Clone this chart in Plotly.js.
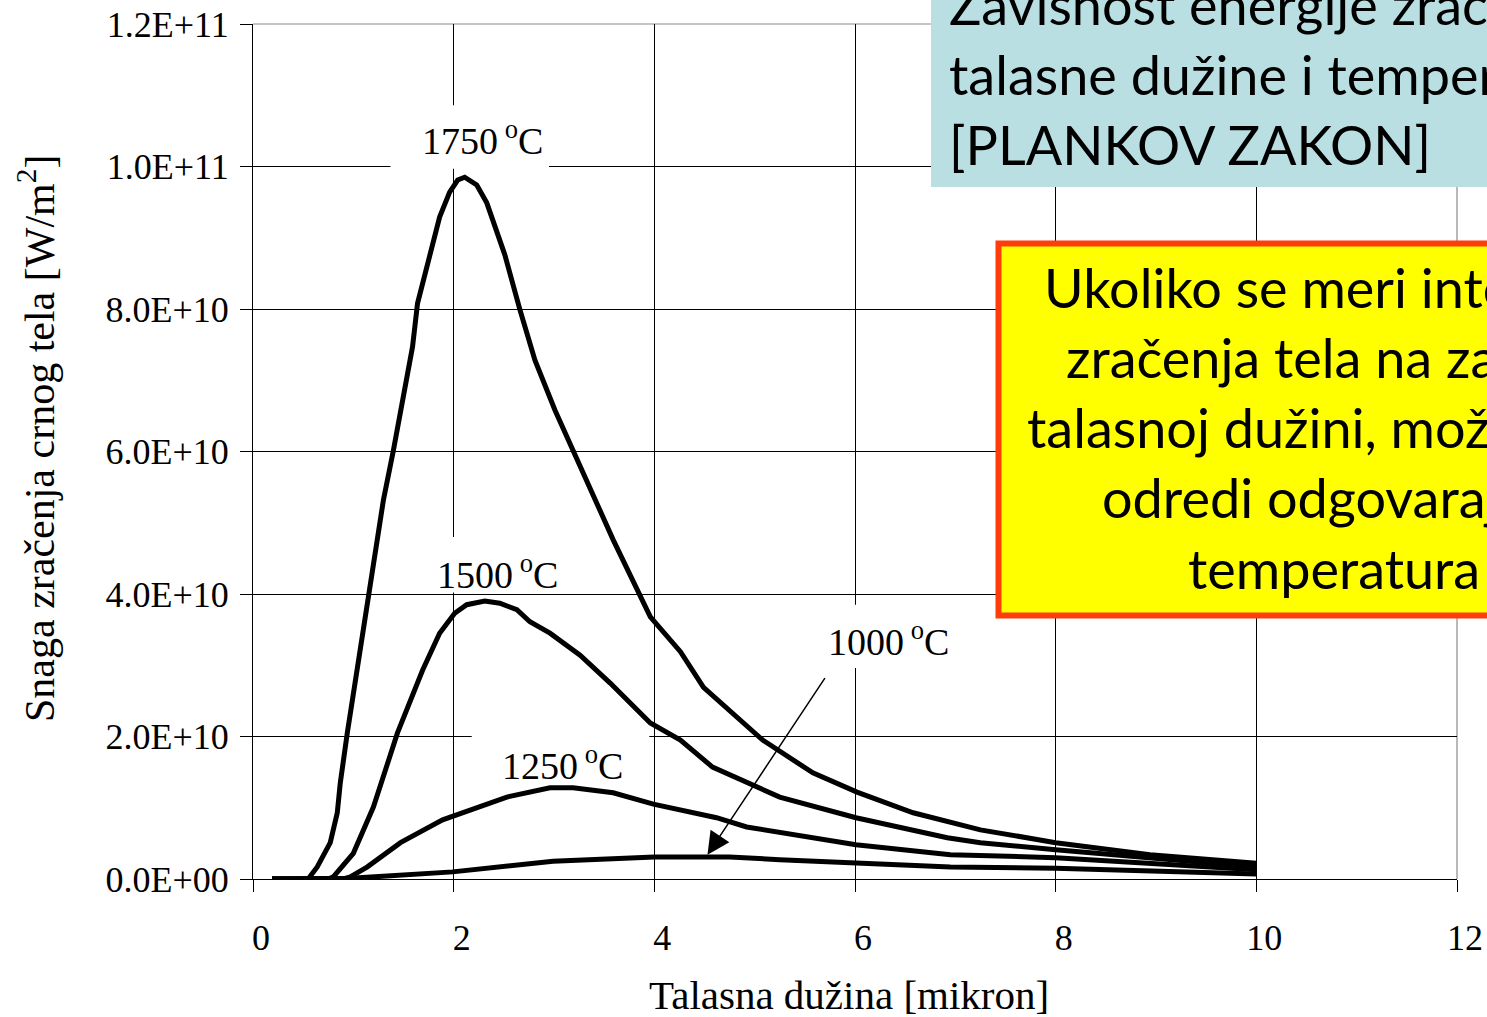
<!DOCTYPE html>
<html>
<head>
<meta charset="utf-8">
<script src="https://cdn.plot.ly/plotly-3.0.1.min.js"></script>
<style>html,body{margin:0;padding:0;background:#fff;}#chart{width:1487px;height:1017px;}</style>
</head>
<body>
<div id="chart"></div>
<script>
// Wavelength [micron] and radiated power [W/m^2]
const x1750 = [0.19, 0.55, 0.64, 0.77, 0.84, 0.87, 0.94, 1.04, 1.15, 1.30, 1.40, 1.50, 1.59, 1.64, 1.73, 1.86, 1.96, 2.04, 2.11, 2.23, 2.33, 2.46, 2.51, 2.66, 2.81, 3.01, 3.21, 3.59, 3.96, 4.26, 4.49, 5.08, 5.58, 6.02, 6.58, 6.95, 7.25, 8.0, 8.94, 10.0];
const y1750 = [0, 0, 0.17e10, 0.51e10, 0.93e10, 1.35e10, 2.05e10, 2.98e10, 4.01e10, 5.32e10, 6.02e10, 6.82e10, 7.47e10, 8.08e10, 8.55e10, 9.29e10, 9.64e10, 9.81e10, 9.85e10, 9.74e10, 9.49e10, 8.93e10, 8.76e10, 7.99e10, 7.28e10, 6.58e10, 5.95e10, 4.76e10, 3.68e10, 3.19e10, 2.69e10, 1.95e10, 1.49e10, 1.22e10, 0.93e10, 0.80e10, 0.69e10, 0.51e10, 0.34e10, 0.22e10];

const x1500 = [0.19, 0.75, 0.80, 1.00, 1.20, 1.44, 1.69, 1.86, 2.01, 2.13, 2.31, 2.46, 2.63, 2.76, 2.96, 3.26, 3.56, 3.96, 4.26, 4.58, 5.25, 6.01, 6.92, 7.25, 8.0, 10.0];
const y1500 = [0, 0, 0.03e10, 0.36e10, 1.01e10, 2.05e10, 2.93e10, 3.45e10, 3.73e10, 3.85e10, 3.90e10, 3.87e10, 3.78e10, 3.61e10, 3.45e10, 3.14e10, 2.75e10, 2.19e10, 1.95e10, 1.57e10, 1.15e10, 0.86e10, 0.58e10, 0.51e10, 0.41e10, 0.17e10];

const x1250 = [0.19, 0.90, 0.97, 1.14, 1.47, 1.89, 2.53, 2.96, 3.19, 3.59, 3.99, 4.26, 4.62, 4.92, 6.01, 6.95, 8.0, 10.0];
const y1250 = [0, 0, 0.03e10, 0.17e10, 0.51e10, 0.83e10, 1.15e10, 1.28e10, 1.28e10, 1.21e10, 1.05e10, 0.97e10, 0.86e10, 0.73e10, 0.48e10, 0.34e10, 0.30e10, 0.13e10];

const x1000 = [0.19, 0.97, 1.99, 2.99, 4.0, 4.75, 5.25, 6.01, 6.95, 8.0, 10.0];
const y1000 = [0, 0.01e10, 0.10e10, 0.25e10, 0.31e10, 0.31e10, 0.27e10, 0.22e10, 0.17e10, 0.15e10, 0.07e10];

const xTickVals = [0, 2, 4, 6, 8, 10, 12];
const yTickVals = [0, 2e10, 4e10, 6e10, 8e10, 10e10, 12e10];
const yTickText = ["0.0E+00", "2.0E+10", "4.0E+10", "6.0E+10", "8.0E+10", "1.0E+11", "1.2E+11"];

const xTitle = "Talasna dužina [mikron]";
const yTitle = "Snaga zračenja crnog tela [W/m<sup>2</sup>]";
const curveLabels = ["1750<sup>&nbsp;o</sup>C", "1500<sup>&nbsp;o</sup>C", "1250<sup>&nbsp;o</sup>C", "1000<sup>&nbsp;o</sup>C"];
const blueLines = ["Zavisnost energije zračenja od", "talasne dužine i temperature", "[PLANKOV ZAKON]"];
const yellowLines = ["Ukoliko se meri intenzitet", "zračenja tela na zadatoj", "talasnoj dužini, može da se", "odredi odgovarajuća", "temperatura"];

const serif = "Liberation Serif, Times New Roman, serif";
const sans = "Lato, Carlito, Calibri, sans-serif";

function line(x, y) {
  return {x: x, y: y, type: 'scatter', mode: 'lines', line: {color: '#000', width: 5}, showlegend: false, hoverinfo: 'skip'};
}
const data = [line(x1750, y1750), line(x1500, y1500), line(x1250, y1250), line(x1000, y1000)];

// Plot area geometry in px (for placement of boxes in paper units)
const L = 253, T = 24, W = 1487, H = 1017, R = 30, B = 138;
const pw = W - L - R, ph = H - T - B;
const px = v => (v - L) / pw;
const py = v => (H - B - v) / ph;

const shapes = [
  // white label backgrounds (between grid and traces)
  {type: 'rect', xref: 'x', yref: 'y', x0: 1.37, x1: 2.95, y0: 9.97e10, y1: 10.86e10, fillcolor: '#fff', line: {width: 0}, layer: 'between'},
  {type: 'rect', xref: 'x', yref: 'y', x0: 1.76, x1: 3.11, y0: 4.02e10, y1: 4.8e10, fillcolor: '#fff', line: {width: 0}, layer: 'between'},
  {type: 'rect', xref: 'x', yref: 'y', x0: 2.18, x1: 3.95, y0: 1.3e10, y1: 2.04e10, fillcolor: '#fff', line: {width: 0}, layer: 'between'},
  {type: 'rect', xref: 'x', yref: 'y', x0: 5.55, x1: 7.1, y0: 2.96e10, y1: 3.85e10, fillcolor: '#fff', line: {width: 0}, layer: 'between'},
  // grey plot border top & right
  {type: 'line', xref: 'paper', yref: 'paper', x0: 0, x1: 1, y0: 1, y1: 1, line: {color: '#8a8a8a', width: 1.2}, layer: 'between'},
  {type: 'line', xref: 'paper', yref: 'paper', x0: 1, x1: 1, y0: 0, y1: 1, line: {color: '#8a8a8a', width: 1.2}, layer: 'between'},
  // blue title box
  {type: 'rect', xref: 'paper', yref: 'paper', x0: px(931), x1: 1.2, y0: py(187), y1: 1.2, fillcolor: '#B9DFE3', line: {width: 0}, layer: 'above'},
  // yellow note box
  {type: 'rect', xref: 'paper', yref: 'paper', x0: px(998.5), x1: 1.2, y0: py(615.5), y1: py(243.5), fillcolor: '#FFFF00', line: {color: '#FF3C0A', width: 6}, layer: 'above'}
];

const annotations = [];
// axis titles
annotations.push({xref: 'paper', yref: 'paper', x: px(849), y: py(995), text: xTitle, showarrow: false, xanchor: 'center', yanchor: 'middle', font: {family: serif, size: 41, color: '#000'}});
annotations.push({xref: 'paper', yref: 'paper', x: px(36), y: py(439), text: yTitle, textangle: -90, showarrow: false, xanchor: 'center', yanchor: 'middle', font: {family: serif, size: 42, color: '#000'}});
// curve labels
const labelPos = [[2.29, 10.4e10], [2.44, 4.31e10], [3.08, 1.63e10], [6.33, 3.37e10]];
curveLabels.forEach((t, i) => {
  annotations.push({xref: 'x', yref: 'y', x: labelPos[i][0], y: labelPos[i][1], text: t, showarrow: false, xanchor: 'center', yanchor: 'middle', font: {family: serif, size: 38, color: '#000'}});
});
// arrow to the 1000 C curve
annotations.push({xref: 'x', yref: 'y', axref: 'x', ayref: 'y', x: 4.53, y: 0.34e10, ax: 5.71, ay: 2.84e10, text: '', showarrow: true, arrowhead: 2, arrowsize: 3, arrowwidth: 1.5, arrowcolor: '#000', standoff: 0, startstandoff: 0});
// blue box text
const blueY = [4, 74, 145];
blueLines.forEach((t, i) => {
  annotations.push({xref: 'paper', yref: 'paper', x: px(947), y: py(blueY[i]), text: t, showarrow: false, xanchor: 'left', yanchor: 'middle', font: {family: sans, size: 54, color: '#000'}});
});
// yellow box text
const yelY = [288, 358, 428, 498, 568];
const yelX = [1042, 1064, 1025, 1100, 1186];
yellowLines.forEach((t, i) => {
  annotations.push({xref: 'paper', yref: 'paper', x: px(yelX[i]), y: py(yelY[i]), text: t, showarrow: false, xanchor: 'left', yanchor: 'middle', font: {family: sans, size: 54, color: '#000'}});
});

const layout = {
  width: W, height: H,
  margin: {l: L, r: R, t: T, b: B, pad: 0},
  paper_bgcolor: '#fff', plot_bgcolor: '#fff',
  showlegend: false,
  xaxis: {
    range: [0, 12], tickvals: xTickVals, ticktext: xTickVals.map(String),
    showgrid: true, gridcolor: '#000', gridwidth: 1, zeroline: false,
    showline: true, linecolor: '#000', linewidth: 1,
    ticks: 'outside', ticklen: 12, tickcolor: '#000', tickwidth: 1,
    ticklabelshift: 8, ticklabelstandoff: 15,
    tickfont: {family: serif, size: 36, color: '#000'}, fixedrange: true
  },
  yaxis: {
    range: [0, 1.2e11], tickvals: yTickVals, ticktext: yTickText,
    showgrid: true, gridcolor: '#000', gridwidth: 1, zeroline: false,
    showline: true, linecolor: '#000', linewidth: 1,
    ticks: 'outside', ticklen: 12, tickcolor: '#000', tickwidth: 1,
    ticklabelstandoff: 4,
    tickfont: {family: serif, size: 36, color: '#000'}, fixedrange: true
  },
  shapes: shapes,
  annotations: annotations
};

Plotly.newPlot('chart', data, layout, {staticPlot: true, displayModeBar: false});
</script>
</body>
</html>
